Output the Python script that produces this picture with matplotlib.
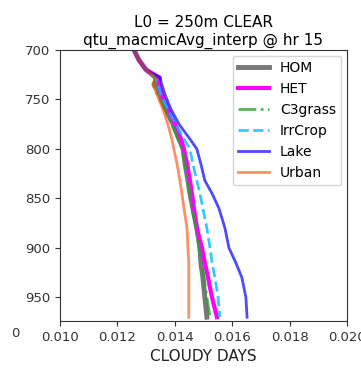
import numpy as np
import matplotlib
matplotlib.use("Agg")
import matplotlib.pyplot as plt

# pressure levels (hPa)
levels = [700, 710, 720, 728, 735, 745, 760, 775, 790, 800,
          815, 832, 845, 860, 880, 900, 915, 930, 950, 970]

hom = [0.01258, 0.01275, 0.01300, 0.01334, 0.01334, 0.01348, 0.01369, 0.01394, 0.01415, 0.01429,
       0.01436, 0.01446, 0.01453, 0.01463, 0.01477, 0.01488, 0.01491, 0.01498, 0.01505, 0.01512]
het = [0.01258, 0.01275, 0.01300, 0.01348, 0.01345, 0.01355, 0.01376, 0.01401, 0.01422, 0.01432,
       0.01443, 0.01453, 0.01460, 0.01467, 0.01477, 0.01495, 0.01505, 0.01516, 0.01530, 0.01547]
c3grass = [0.01258, 0.01275, 0.01300, 0.01334, 0.01324, 0.01341, 0.01366, 0.01390, 0.01411, 0.01425,
           0.01436, 0.01446, 0.01453, 0.01460, 0.01474, 0.01484, 0.01495, 0.01502, 0.01512, 0.01523]
irrcrop = [0.01258, 0.01275, 0.01300, 0.01334, 0.01341, 0.01352, 0.01376, 0.01404, 0.01432, 0.01453,
           0.01463, 0.01477, 0.01488, 0.01498, 0.01512, 0.01523, 0.01530, 0.01540, 0.01551, 0.01557]
lake = [0.01258, 0.01275, 0.01300, 0.01348, 0.01355, 0.01366, 0.01387, 0.01415, 0.01453, 0.01477,
        0.01491, 0.01505, 0.01530, 0.01554, 0.01575, 0.01589, 0.01613, 0.01634, 0.01648, 0.01652]
urban = [0.01258, 0.01275, 0.01300, 0.01334, 0.01324, 0.01338, 0.01359, 0.01376, 0.01390, 0.01397,
         0.01408, 0.01418, 0.01425, 0.01432, 0.01443, 0.01446, 0.01449, 0.01449, 0.01449, 0.01449]

xticks = [0.010, 0.012, 0.014, 0.016, 0.018, 0.020]

fig = plt.figure(figsize=(3.61, 3.70), dpi=100)
ax = fig.add_axes([0.166, 0.132, 0.795, 0.733])

ax.plot(hom, levels, color='dimgray', lw=3.5, alpha=0.9, label='HOM')
ax.plot(het, levels, color='magenta', lw=3, label='HET')
ax.plot(c3grass, levels, color='tab:green', lw=2, ls='-.', alpha=0.8, label='C3grass')
ax.plot(irrcrop, levels, color='deepskyblue', lw=2, ls='--', alpha=0.8, label='IrrCrop')
ax.plot(lake, levels, color='blue', lw=2, alpha=0.7, label='Lake')
ax.plot(urban, levels, color='orangered', lw=2, alpha=0.6, label='Urban')

ax.set_xlim(0.010, 0.020)
ax.set_ylim(974, 700)
ax.set_xticks(xticks)
ax.set_yticks([700, 750, 800, 850, 900, 950])
ax.tick_params(labelsize=9.5, colors='#333333')
for s in ax.spines.values():
    s.set_color('#333333')

ax.set_xlabel('CLOUDY DAYS', fontsize=11, color='#222222')
ax.set_title('L0 = 250m CLEAR\nqtu_macmicAvg_interp @ hr 15', fontsize=11, pad=4)
ax.legend(loc='upper right', fontsize=10, handlelength=2.2, labelspacing=0.5,
          borderaxespad=0.4)

# fragment of the neighbouring panel's tick label
fig.text(0.042, 0.088, '0', fontsize=9.5, color='#333333', ha='center')

fig.savefig('out.png', dpi=100)
